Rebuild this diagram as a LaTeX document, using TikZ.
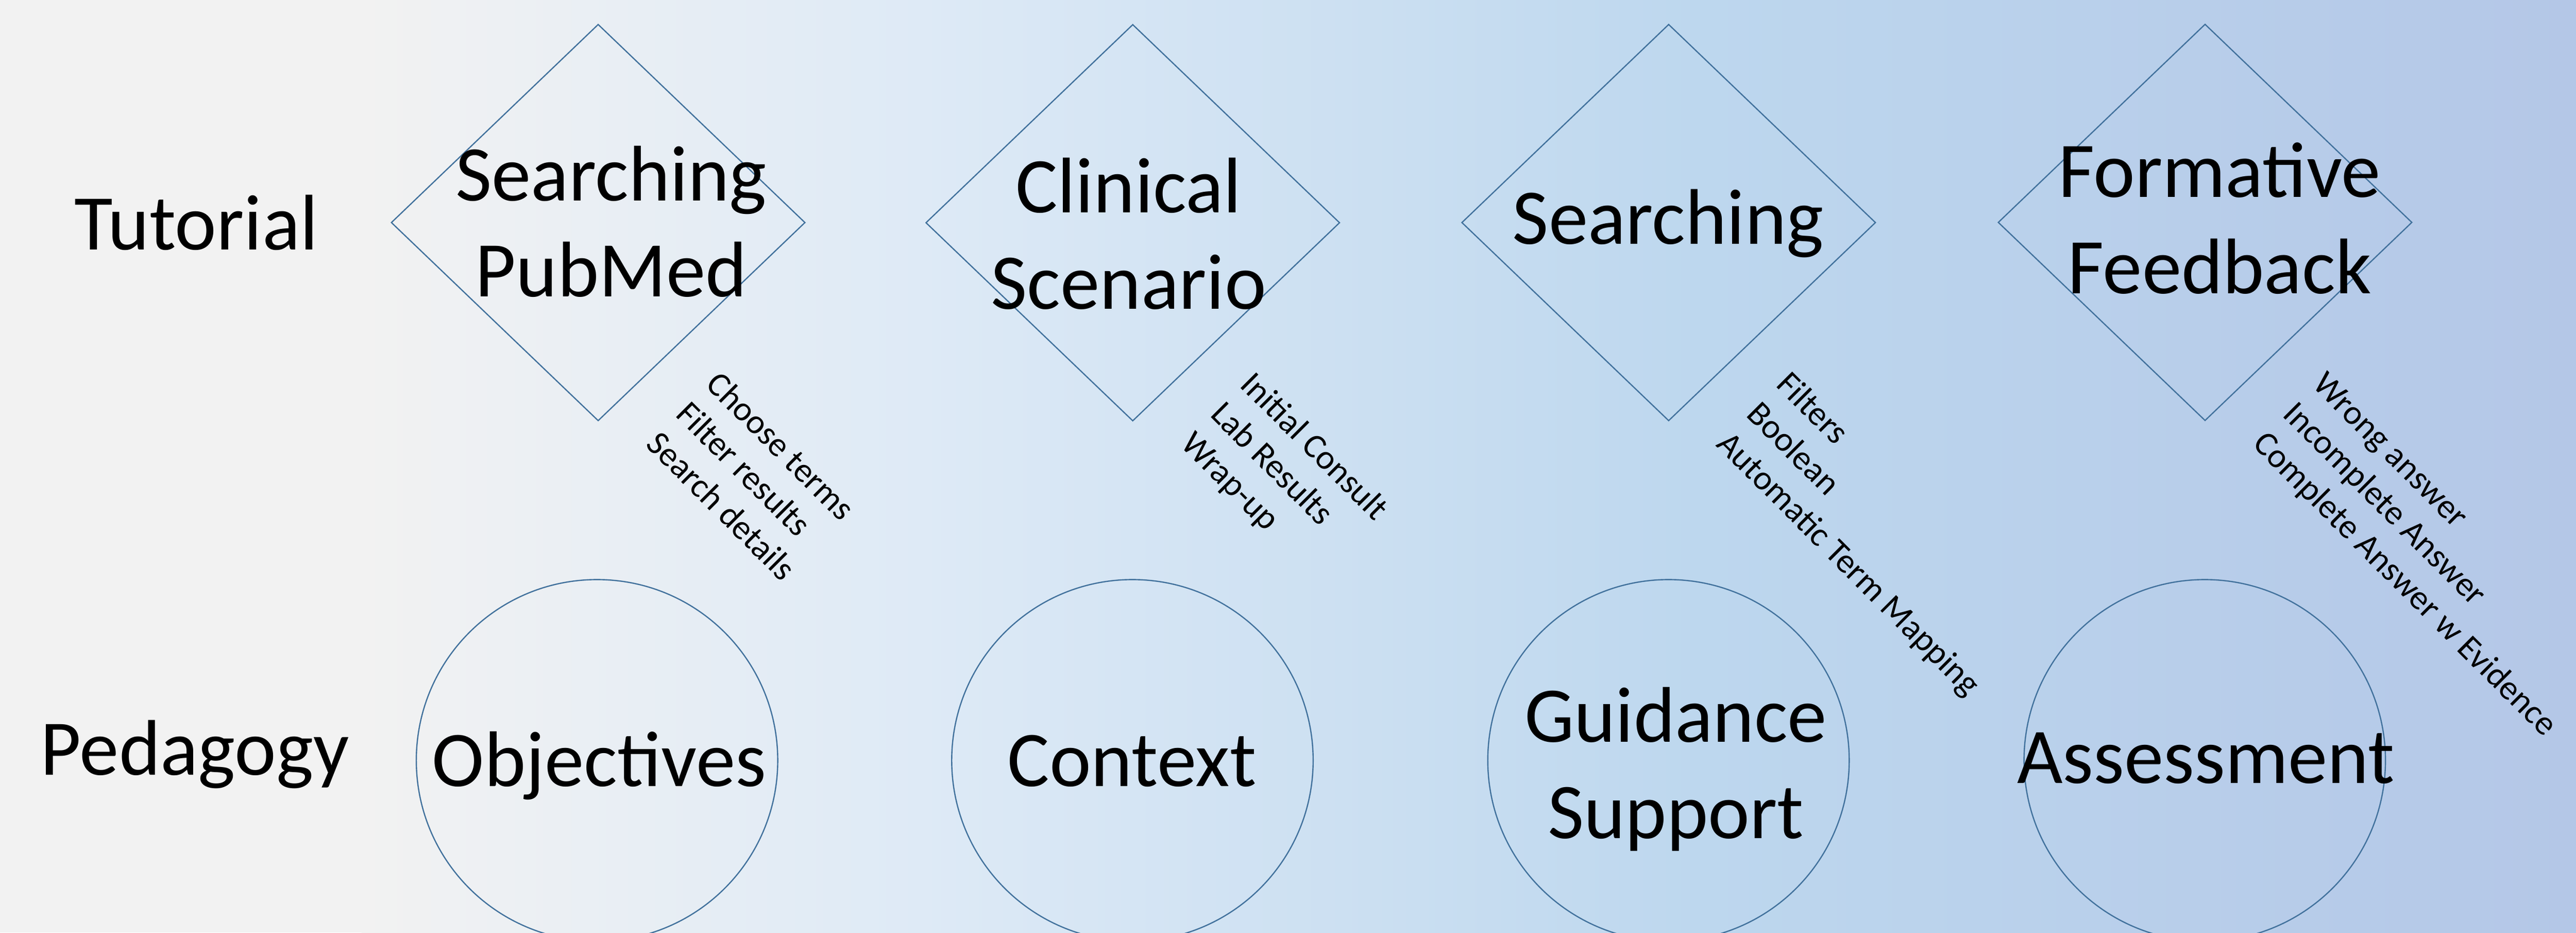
\documentclass[tikz,border=0pt]{standalone}
\usepackage{fontspec}
\setmainfont{Carlito}
\usetikzlibrary{shapes.geometric,calc}
\definecolor{bgA}{HTML}{F2F2F2}
\definecolor{bgB}{HTML}{DEEAF6}
\definecolor{bgC}{HTML}{BDD7EE}
\definecolor{bgD}{HTML}{B4C7E7}
\definecolor{edgeblue}{HTML}{41719C}
\begin{document}
\begin{tikzpicture}[x=1pt,y=-1pt,
  shapeline/.style={draw=edgeblue, line width=0.75pt},
  dia/.style={shapeline, diamond, minimum width=252pt, minimum height=241.3pt, inner sep=0pt},
  circ/.style={shapeline, circle, minimum size=220pt, inner sep=0pt},
  bigtext/.style={inner sep=0pt, anchor=base, font=\fontsize{48}{58.6}\selectfont},
  lbltext/.style={inner sep=0pt, anchor=base west, rotate=-45, font=\fontsize{21}{25.6}\selectfont}]
\useasboundingbox (0,0) rectangle (1568,567.35);
\clip (0,0) rectangle (1568,567.35);
% background gradient
\fill[bgA] (0,0) rectangle (220.5,567.35);
\shade[left color=bgA,right color=bgB] (220,0) rectangle (560.5,567.35);
\shade[left color=bgB,right color=bgC] (560,0) rectangle (1035.5,567.35);
\shade[left color=bgC,right color=bgD] (1035,0) rectangle (1568,567.35);
% row labels
\node[bigtext] (tut) at (119.5,152) {Tutorial};
\node[bigtext] (ped) at (118.6,471.6) {Pedagogy};
% diamonds
\node[dia] (d1) at (364.1,135.4) {};
\node[dia] (d2) at (689.5,135.5) {};
\node[dia] (d3) at (1015.7,135.4) {};
\node[dia] (d4) at (1342.2,135.3) {};
\node[bigtext] (t1) at (372,122) {\begin{tabular}[t]{@{}c@{}}Searching\\PubMed\end{tabular}};
\node[bigtext] (t2) at (687,129.4) {\begin{tabular}[t]{@{}c@{}}Clinical\\Scenario\end{tabular}};
\node[bigtext] (t3) at (1015.3,148.4) {Searching};
\node[bigtext] (t4) at (1351,120.1) {\begin{tabular}[t]{@{}c@{}}Formative\\Feedback\end{tabular}};
% rotated labels
\node[lbltext] (l1) at ($(d1.center)+(64.5,99.3)$) {\begin{tabular}[t]{@{}l@{}}Choose terms\\Filter results\\Search details\end{tabular}};
\node[lbltext] (l2) at ($(d2.center)+(64.5,99.3)$) {\begin{tabular}[t]{@{}l@{}}Initial Consult\\Lab Results\\Wrap-up\end{tabular}};
\node[lbltext] (l3) at ($(d3.center)+(64.5,99.3)$) {\begin{tabular}[t]{@{}l@{}}Filters\\Boolean\\Automatic Term Mapping\end{tabular}};
\node[lbltext] (l4) at ($(d4.center)+(64.5,99.3)$) {\begin{tabular}[t]{@{}l@{}}Wrong answer\\Incomplete Answer\\Complete Answer w Evidence\end{tabular}};
% circles
\node[circ] (c1) at (363.4,462.6) {};
\node[circ] (c2) at (689.3,462.6) {};
\node[circ] (c3) at (1015.6,462.6) {};
\node[circ] (c4) at (1342,462.6) {};
\node[bigtext] (o1) at (364.7,478.3) {Objectives};
\node[bigtext] (o2) at (689,478.5) {Context};
\node[bigtext] (o3) at (1020,451.5) {\begin{tabular}[t]{@{}c@{}}Guidance\\Support\end{tabular}};
\node[bigtext] (o4) at (1342.7,476.4) {Assessment};
\end{tikzpicture}
\end{document}
